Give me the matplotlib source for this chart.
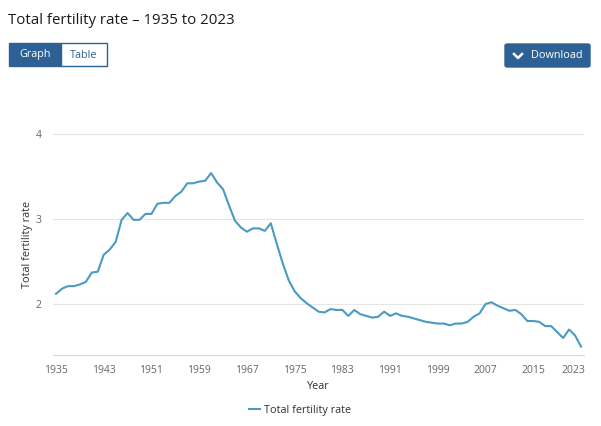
import matplotlib
matplotlib.use("Agg")
import matplotlib.pyplot as plt
import matplotlib.transforms as mtransforms
from matplotlib.patches import FancyBboxPatch, Rectangle
from matplotlib.lines import Line2D

plt.rcParams["font.family"] = ["Open Sans", "DejaVu Sans"]

# data
years = list(range(1935, 2024))
tfr = [
    2.12, 2.18, 2.21, 2.21, 2.23, 2.26, 2.37, 2.38, 2.58, 2.64,
    2.73, 2.99, 3.07, 2.99, 2.99, 3.06, 3.06, 3.18, 3.19, 3.19,
    3.27, 3.32, 3.42, 3.42, 3.44, 3.45, 3.54, 3.43, 3.35, 3.16,
    2.98, 2.90, 2.85, 2.89, 2.89, 2.86, 2.95, 2.71, 2.48, 2.28,
    2.15, 2.07, 2.01, 1.96, 1.91, 1.90, 1.94, 1.93, 1.93, 1.86,
    1.93, 1.88, 1.86, 1.84, 1.85, 1.91, 1.86, 1.89, 1.86, 1.85,
    1.83, 1.81, 1.79, 1.78, 1.77, 1.77, 1.75, 1.77, 1.77, 1.79,
    1.85, 1.89, 2.00, 2.02, 1.98, 1.95, 1.92, 1.93, 1.88, 1.80,
    1.80, 1.79, 1.74, 1.74, 1.67, 1.60, 1.70, 1.63, 1.50,
]
x_ticks = list(range(1935, 2024, 8))
y_ticks = [2, 3, 4]

W, H = 601, 426
BLUE = "#2d6195"
LINE = "#4a9ac4"


def fx(px):
    return px / W


def fy(py):
    return 1 - py / H


fig = plt.figure(figsize=(W / 100, H / 100), dpi=100)
ax = fig.add_axes([fx(53), fy(355), fx(584) - fx(53), fy(134) - fy(355)])

ax.plot(years, tfr, color=LINE, linewidth=1.5, label="Total fertility rate")
ax.set_xlim(1934.5, 2023.5)
ax.set_ylim(1.4, 4.0)
ax.set_xticks(x_ticks)
ax.set_yticks(y_ticks)
ax.tick_params(axis="both", length=0, labelsize=7.5, labelcolor="#666666")
ax.tick_params(axis="x", pad=7)
ax.tick_params(axis="y", pad=8)
ax.grid(axis="y", color="#e6e6e6", linewidth=0.8)
ax.set_axisbelow(True)
for side in ["top", "right", "left"]:
    ax.spines[side].set_visible(False)
ax.spines["bottom"].set_color("#d8d8d8")
ax.spines["bottom"].set_linewidth(0.8)

# last year label is pulled in to stay inside the plot edge
last = ax.get_xticklabels()[-1]
last.set_transform(last.get_transform() + mtransforms.ScaledTranslation(-8 / 100, 0, fig.dpi_scale_trans))

ax.set_xlabel("Year", fontsize=7.8, color="#333333", labelpad=4)
ax.set_ylabel("Total fertility rate", fontsize=7.8, color="#333333")
ax.yaxis.set_label_coords((33 - 53) / (584 - 53), 0.5)

leg = fig.legend(loc="center", bbox_to_anchor=(fx(300), fy(410)), frameon=False,
                 fontsize=7.8, handlelength=1.0, handletextpad=0.4)
for t in leg.get_texts():
    t.set_color("#333333")

# title
fig.text(fx(8), fy(21), "Total fertility rate \u2013 1935 to 2023", fontsize=10.8,
         color="#1a1a1a", va="center", ha="left")

# Graph / Table toggle
fig.patches.append(Rectangle((fx(9), fy(66)), fx(61) - fx(9), fy(43) - fy(66),
                             transform=fig.transFigure, facecolor=BLUE, edgecolor=BLUE, lw=1))
fig.patches.append(Rectangle((fx(61), fy(66)), fx(107) - fx(61), fy(43) - fy(66),
                             transform=fig.transFigure, facecolor="white", edgecolor=BLUE, lw=1))
fig.text(fx(35), fy(55), "Graph", fontsize=7.8, color="white", ha="center", va="center")
fig.text(fx(84), fy(55), "Table", fontsize=7.8, color=BLUE, ha="center", va="center")

# Download button
fig.patches.append(FancyBboxPatch((fx(505), fy(67)), fx(590) - fx(505), fy(44) - fy(67),
                                  boxstyle="round,pad=0,rounding_size=0.004",
                                  transform=fig.transFigure, facecolor=BLUE, edgecolor=BLUE))
fig.lines.append(Line2D([fx(514), fx(518), fx(522)], [fy(54), fy(58), fy(54)],
                        transform=fig.transFigure, color="white", lw=1.8))
fig.text(fx(531), fy(56), "Download", fontsize=7.8, color="white", ha="left", va="center")

fig.savefig("out.png", dpi=100)
